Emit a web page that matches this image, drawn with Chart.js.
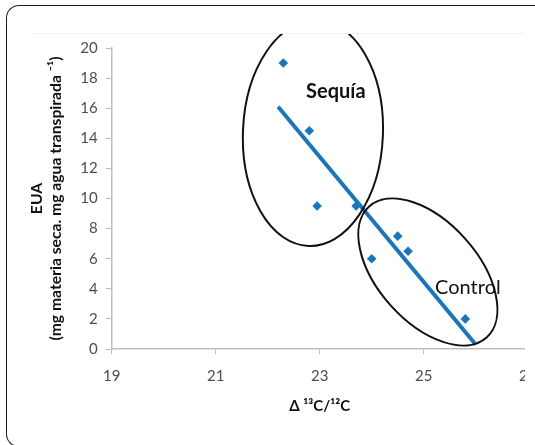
<!DOCTYPE html>
<html>
<head>
<meta charset="utf-8">
<script src="https://cdn.jsdelivr.net/npm/chart.js@4"></script>
<style>
  html, body { margin: 0; padding: 0; background: #fff; overflow: hidden; }
  #wrap { position: relative; width: 535px; height: 445px; overflow: hidden; }
  #frame { position: absolute; left: 6px; top: 5px; width: 800px; height: 440px;
           border-left: 1.5px solid #1c1c1c; border-top: 1.5px solid #1c1c1c;
           border-bottom: 1.5px solid #1c1c1c;
           border-radius: 13px 0 0 13px; }
  #clip { position: absolute; left: 0; top: 0; width: 525px; height: 445px; overflow: hidden; }
  #box { position: absolute; left: 0; top: 0; width: 560px; height: 445px; }
</style>
</head>
<body>
<div id="wrap">
  <div id="frame"></div>
  <div id="clip"><div id="box"><canvas id="euaChart"></canvas></div></div>
</div>
<script>
// values
const deltaC = [22.3, 22.8, 22.95, 23.7, 24.0, 24.5, 24.7, 25.8];
const eua = [19, 14.5, 9.5, 9.5, 6.0, 7.5, 6.5, 2.0];
const trendX = [22.2, 26.0];
const trendY = [16.1, 0.3];
const xTicks = [19, 21, 23, 25, 27];
const yTicks = [0, 2, 4, 6, 8, 10, 12, 14, 16, 18, 20];

// group labels (position in data units)
const groupNames = ['Sequía', 'Control'];
const groupX = [23.31, 25.85];
const groupY = [17.1, 4.1];

const blue = '#1b75bb';
const axisGrey = '#bdbdbd';

// ellipses round the two groups (centre in data units, radii in px)
const ellipses = [
    { x: 22.87, y: 14.35, rx: 70, ry: 113, rot: 0.04 },
    { x: 25.08, y: 5.12, rx: 88, ry: 50, rot: 0.84 }
];

const groupsPlugin = {
    id: 'groups',
    beforeDraw(chart) {
        const ctx = chart.ctx;
        ctx.save();
        ctx.strokeStyle = '#efefef';
        ctx.lineWidth = 1;
        ctx.beginPath();
        ctx.moveTo(32, 33.5);
        ctx.lineTo(chart.width, 33.5);
        ctx.stroke();
        ctx.restore();
    },
    afterDatasetsDraw(chart) {
        const ctx = chart.ctx;
        const xs = chart.scales.x, ys = chart.scales.y;
        ctx.save();
        ctx.beginPath();
        ctx.rect(0, 34, chart.width, chart.height);
        ctx.clip();
        ctx.strokeStyle = '#111';
        ctx.lineWidth = 2;
        ellipses.forEach(e => {
            ctx.beginPath();
            ctx.ellipse(xs.getPixelForValue(e.x), ys.getPixelForValue(e.y), e.rx, e.ry, e.rot, 0, Math.PI * 2);
            ctx.stroke();
        });
        ctx.restore();

        ctx.save();
        ctx.fillStyle = '#111';
        ctx.textAlign = 'center';
        ctx.textBaseline = 'middle';
        groupNames.forEach((name, i) => {
            ctx.font = (i === 0 ? 'bold ' : '') + '20px Lato';
            ctx.fillText(name, xs.getPixelForValue(groupX[i]), ys.getPixelForValue(groupY[i]));
        });
        ctx.restore();
    }
};

new Chart(document.getElementById('euaChart'), {
    type: 'scatter',
    data: {
        datasets: [
            {
                type: 'line',
                data: trendX.map((x, i) => ({ x: x, y: trendY[i] })),
                borderColor: blue,
                borderWidth: 4,
                pointRadius: 0,
                fill: false
            },
            {
                data: deltaC.map((x, i) => ({ x: x, y: eua[i] })),
                pointStyle: 'rectRot',
                pointRadius: 4.8,
                backgroundColor: blue,
                borderColor: blue,
                borderWidth: 0
            }
        ]
    },
    plugins: [groupsPlugin],
    options: {
        responsive: true,
        maintainAspectRatio: false,
        animation: false,
        layout: { padding: { top: 48, right: 32.3, bottom: 0, left: 0 } },
        plugins: { legend: { display: false }, tooltip: { enabled: false } },
        scales: {
            x: {
                type: 'linear',
                min: 19,
                max: 27,
                afterBuildTicks: s => { s.ticks = xTicks.map(v => ({ value: v })); },
                afterFit: s => { s.height = 96; },
                grid: { drawOnChartArea: false, color: axisGrey, tickLength: 5 },
                border: { color: axisGrey, width: 1.5 },
                ticks: { color: '#4d4d4d', font: { family: 'Lato', size: 15 }, padding: 13, maxRotation: 0 },
                title: {
                    display: true,
                    text: 'Δ ¹³C/¹²C',
                    color: '#111',
                    font: { family: 'Lato', size: 15, weight: 'bold' },
                    padding: { top: 0, bottom: 30 }
                }
            },
            y: {
                min: 0,
                max: 20,
                afterBuildTicks: s => { s.ticks = yTicks.map(v => ({ value: v })); },
                afterFit: s => { s.width = 111.7; },
                grid: { drawOnChartArea: false, color: axisGrey, tickLength: 6 },
                border: { color: axisGrey, width: 1.5 },
                ticks: { color: '#4d4d4d', font: { family: 'Lato', size: 15 }, padding: 8 },
                title: {
                    display: true,
                    text: ['EUA', '(mg materia seca. mg agua transpirada ⁻¹)'],
                    color: '#111',
                    font: { family: 'Lato', size: 15.7, weight: 'bold', lineHeight: 1.25 },
                    padding: { top: 27, bottom: 0 }
                }
            }
        }
    }
});
</script>
</body>
</html>
